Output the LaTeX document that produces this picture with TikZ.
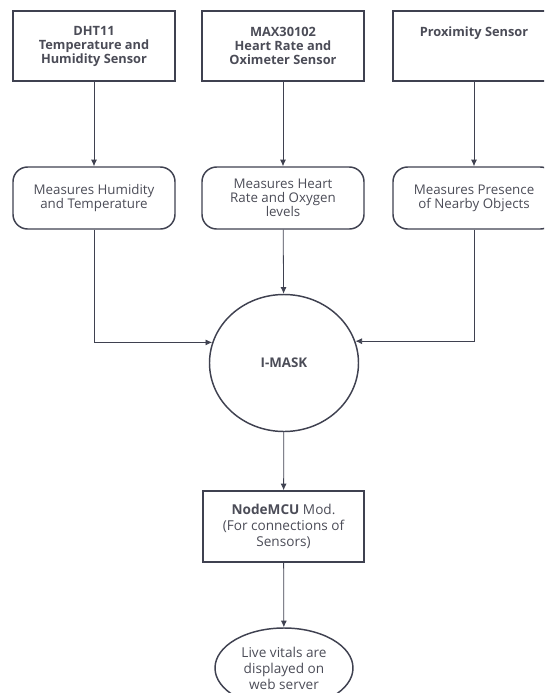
\documentclass[tikz,border=0pt]{standalone}
\usepackage{fontspec}
\setmainfont{Open Sans}
\usepackage{tikz}
\usetikzlibrary{shapes.geometric,arrows.meta}
\definecolor{lineC}{HTML}{3F4150}
\definecolor{textC}{HTML}{4B4C57}

\begin{document}
\begin{tikzpicture}[x=0.75pt, y=-0.75pt, >={Latex[length=5pt,width=4.5pt]},
  every node/.style={inner sep=1.5pt, text=textC, align=center, font=\fontsize{10}{10.5}\selectfont},
  sensor/.style={draw=lineC, line width=1.1pt, minimum width=121.5pt, minimum height=52.5pt, font=\fontsize{9.6}{10.5}\selectfont\bfseries},
  task/.style={draw=lineC, line width=1.1pt, rounded corners=11pt, minimum width=121.5pt, minimum height=46.5pt},
  link/.style={->, draw=lineC, line width=0.6pt}]
  \useasboundingbox (0,0) rectangle (544,693);
  \begin{scope}
  \clip (0,0) rectangle (544,693);
  \node[sensor] (sA) at (94,46) {DHT11\\Temperature and\\Humidity Sensor};
  \node[sensor] (sB) at (283,46) {MAX30102\\Heart Rate and\\Oximeter Sensor};
  \node[sensor] (sC) at (474,46) {Proximity Sensor\\~\\~};
  \node[task] (mA) at (94,198) {Measures Humidity\\and Temperature};
  \node[task] (mB) at (283,198) {Measures Heart\\Rate and Oxygen\\levels};
  \node[task] (mC) at (474,198) {Measures Presence\\of Nearby Objects};
  \node[ellipse, draw=lineC, line width=1.1pt, minimum width=111.75pt, minimum height=102.75pt, font=\fontsize{10}{10.5}\selectfont\bfseries] (mask) at (284,363) {I-MASK};
  \node[draw=lineC, line width=1.1pt, minimum width=120.75pt, minimum height=53.25pt, font=\fontsize{10.2}{12.3}\selectfont] (mcu) at (283.5,526.5) {\textbf{NodeMCU} Mod.\\(For connections of\\Sensors)};
  \node[ellipse, draw=lineC, line width=1.1pt, minimum width=103.5pt, minimum height=60pt, inner sep=0pt, font=\fontsize{10.2}{12}\selectfont] (web) at (284,668) {Live vitals are\\displayed on\\web server};
  \draw[link] (sA) -- (mA);
  \draw[link] (sB) -- (mB);
  \draw[link] (sC) -- (mC);
  \draw[link] (mA.south) |- (mask.164);
  \draw[link] (mB) -- (mask);
  \draw[link] (mC.south) |- (mask.17);
  \draw[link] (mask) -- (mcu);
  \draw[link] (mcu) -- (web);
  \end{scope}
\end{tikzpicture}
\end{document}
